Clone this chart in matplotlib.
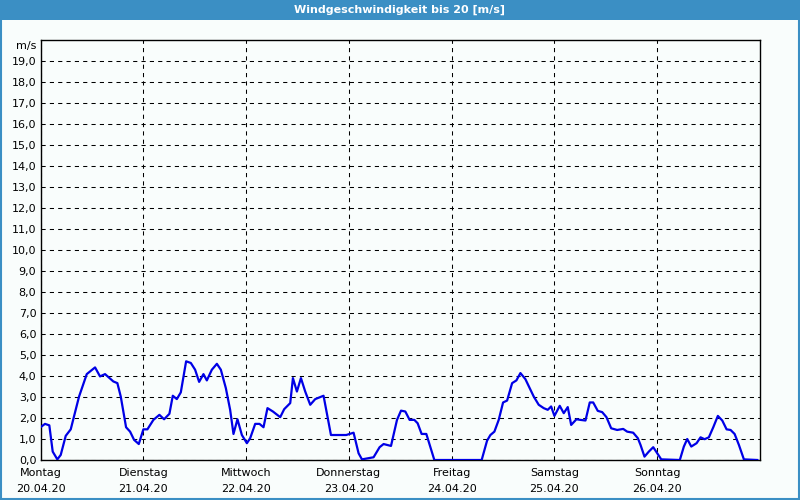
import matplotlib
matplotlib.use("Agg")
import matplotlib.pyplot as plt
from matplotlib.patches import Rectangle

# Stunden seit Montag 00:00 und Windgeschwindigkeit in m/s
stunden = [0.0, 1.05, 2.06, 2.85, 3.93, 4.72, 5.89, 7.06, 9.0, 10.8, 12.74, 13.9,
           15.07, 17.01, 17.95, 18.74, 19.98, 20.92, 21.85, 22.95, 24.02, 24.96,
           26.36, 27.76, 28.86, 30.1, 30.89, 31.83, 32.76, 34.0, 35.1, 36.1,
           37.04, 38.05, 38.84, 40.01, 41.18, 42.11, 43.28, 44.28, 45.06, 45.99,
           47.02, 48.19, 48.96, 50.13, 51.13, 52.07, 53.0, 54.26, 55.97, 56.9,
           58.31, 58.94, 59.87, 60.81, 61.81, 62.98, 64.15, 66.09, 67.82, 71.39,
           73.1, 74.27, 75.06, 77.77, 79.18, 80.11, 81.84, 83.24, 84.18, 85.18,
           86.19, 87.29, 88.06, 88.99, 90.09, 91.96, 103.01, 104.27, 105.05,
           105.98, 106.99, 108.01, 108.95, 110.12, 111.12, 112.06, 113.22,
           115.17, 116.33, 117.5, 118.44, 119.23, 120.0, 121.24, 122.18, 123.11,
           123.91, 125.14, 126.08, 127.25, 128.25, 129.05, 130.12, 131.15,
           132.15, 133.25, 134.65, 136.06, 136.99, 138.39, 139.47, 140.1,
           141.03, 142.04, 143.07, 144.0, 144.94, 149.28, 150.22, 151.01,
           151.95, 153.19, 154.12, 155.06, 156.06, 157.09, 158.16, 159.19,
           160.2, 161.13, 162.07, 163.07, 164.24, 167.37]
wind = [1.56, 1.72, 1.65, 0.4, 0.03, 0.24, 1.15, 1.46, 3.02, 4.09, 4.41, 3.98,
        4.09, 3.74, 3.66, 3.02, 1.56, 1.35, 0.96, 0.76, 1.46, 1.46,
        1.91, 2.15, 1.94, 2.2, 3.06, 2.9, 3.22, 4.7, 4.62, 4.3,
        3.72, 4.09, 3.79, 4.3, 4.58, 4.3, 3.42, 2.39, 1.24, 1.94,
        1.19, 0.8, 1.04, 1.72, 1.72, 1.56, 2.47, 2.31, 2.04, 2.42,
        2.71, 3.9, 3.26, 3.9, 3.26, 2.63, 2.9, 3.06, 1.19, 1.19,
        1.3, 0.32, 0.03, 0.13, 0.61, 0.76, 0.67, 1.91, 2.35, 2.31,
        1.91, 1.91, 1.75, 1.24, 1.24, 0.0, 0.0, 0.92, 1.19,
        1.35, 1.91, 2.74, 2.83, 3.66, 3.79, 4.14, 3.85,
        3.02, 2.63, 2.47, 2.39, 2.55, 2.1, 2.58, 2.23, 2.52,
        1.67, 1.94, 1.91, 1.88, 2.74, 2.74, 2.34, 2.28,
        2.04, 1.51, 1.43, 1.48, 1.35, 1.3, 1.04, 0.72,
        0.16, 0.4, 0.61, 0.32, 0.03, 0.0, 0.64, 1.0,
        0.64, 0.8, 1.08, 0.99, 1.08, 1.56, 2.1, 1.88,
        1.46, 1.43, 1.24, 0.72, 0.03, 0.0]

tage = ["Montag", "Dienstag", "Mittwoch", "Donnerstag", "Freitag", "Samstag", "Sonntag"]
daten = ["20.04.20", "21.04.20", "22.04.20", "23.04.20", "24.04.20", "25.04.20", "26.04.20"]
y_ticks = list(range(0, 20))

blau_rahmen = "#3b8fc4"
hintergrund = "#f9fdfc"

fig = plt.figure(figsize=(8, 5), dpi=100, facecolor=hintergrund)

# Titelleiste und Rahmen
fig.patches.append(Rectangle((0, 0.96), 1, 0.04, transform=fig.transFigure,
                             facecolor=blau_rahmen, edgecolor="none"))
fig.patches.append(Rectangle((0.0012, 0.002), 0.9976, 0.996, transform=fig.transFigure,
                             facecolor="none", edgecolor=blau_rahmen, linewidth=1.5))
fig.text(0.5, 0.98, "Windgeschwindigkeit bis 20 [m/s]", color="white",
         fontsize=8, fontweight="bold", ha="center", va="center")

ax = fig.add_axes([40.5 / 800, 40 / 500, (760 - 40.5) / 800, 420 / 500])
ax.set_facecolor(hintergrund)

ax.plot(stunden, wind, color="#0000e6", linewidth=1.6, zorder=3)

ax.set_xlim(0, 168)
ax.set_ylim(0, 20)
ax.set_yticks(y_ticks)
ax.set_yticklabels([f"{v},0" for v in y_ticks], fontsize=8)
ax.set_xticks([i * 24 for i in range(7)])
ax.set_xticklabels([f"{t}\n{d}" for t, d in zip(tage, daten)], fontsize=8, linespacing=1.75)
ax.tick_params(axis="y", length=0, pad=3, colors="black")
ax.tick_params(axis="x", length=0, pad=6, colors="black")

ax.grid(True, color="black", linestyle=(0, (4, 4)), linewidth=0.75)
for s in ax.spines.values():
    s.set_linewidth(1.0)
    s.set_color("black")

ax.text(-0.006, 1 - 6 / 420, "m/s", transform=ax.transAxes, ha="right", va="center", fontsize=8)

fig.savefig("out.png", dpi=100, facecolor=hintergrund)
